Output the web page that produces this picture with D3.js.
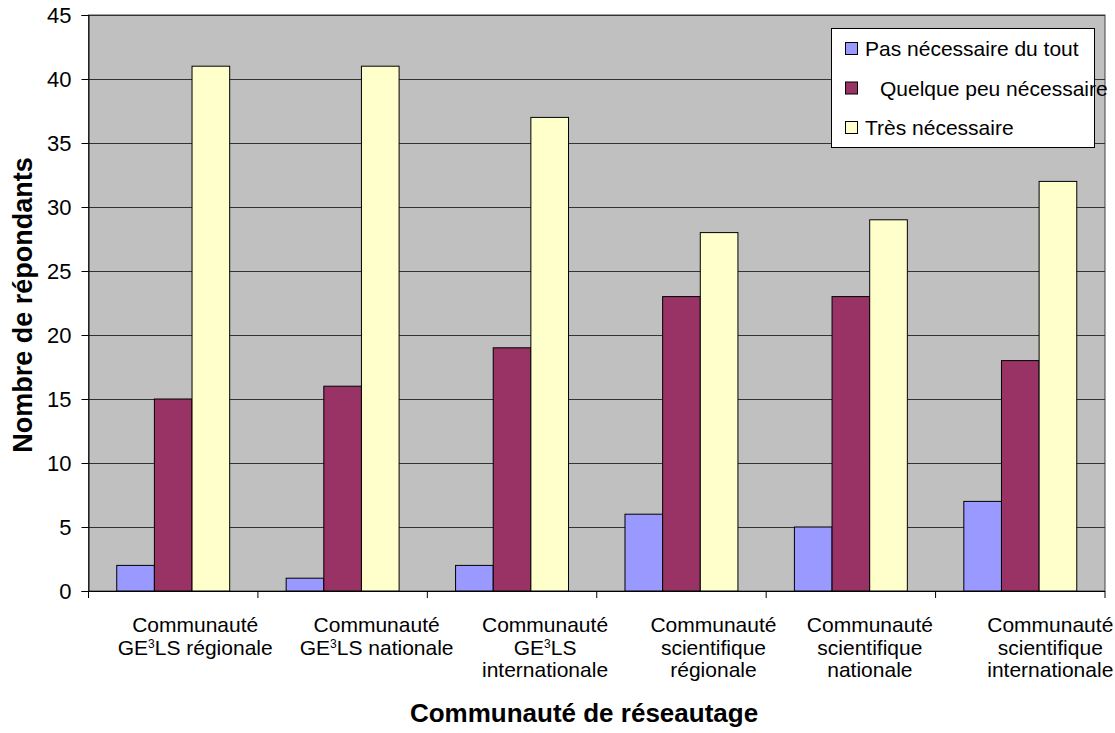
<!DOCTYPE html>
<html><head><meta charset="utf-8">
<script src="https://cdn.jsdelivr.net/npm/d3@7"></script>
<style>body{margin:0;background:#fff}svg{display:block;font-family:"Liberation Sans",Arial,sans-serif}</style>
</head><body><svg id="c" width="1115" height="733"></svg>
<script>
// ---- data ----
const categories = [
  ["Communauté", "GE³LS régionale"],
  ["Communauté", "GE³LS nationale"],
  ["Communauté", "GE³LS", "internationale"],
  ["Communauté", "scientifique", "régionale"],
  ["Communauté", "scientifique", "nationale"],
  ["Communauté", "scientifique", "internationale"]
];
const seriesNames = ["Pas nécessaire du tout", "Quelque peu nécessaire", "Très nécessaire"];
const pasNecessaire = [2, 1, 2, 6, 5, 7];
const quelquePeu = [15, 16, 19, 23, 23, 18];
const tresNecessaire = [41, 41, 37, 28, 29, 32];
const yTicks = [0, 5, 10, 15, 20, 25, 30, 35, 40, 45];
const yTitle = "Nombre de répondants";
const xTitle = "Communauté de réseautage";

// ---- drawing ----
const colors = ["#9999FF", "#993366", "#FFFFCC"];
const series = [pasNecessaire, quelquePeu, tresNecessaire];
const svg = d3.select("#c");
const L = 88.5, R = 1105, T = 15, B = 591;

const x0 = d3.scaleBand().domain(d3.range(categories.length)).range([L, R]).paddingInner(0).paddingOuter(0);
const bw = x0.bandwidth() / 4.5;
const x1 = d3.scaleBand().domain(d3.range(series.length)).range([0.75 * bw, 3.75 * bw]);
const y = d3.scaleLinear().domain([0, 45]).range([B, T]);

svg.append("rect").attr("x", L).attr("y", T).attr("width", R - L).attr("height", B - T)
  .attr("fill", "#C0C0C0").attr("stroke", "#444").attr("stroke-width", 1);

svg.append("g").selectAll("line").data(yTicks.filter(d => d > 0)).join("line")
  .attr("x1", L).attr("x2", R).attr("y1", d => Math.round(y(d)) + 0.5).attr("y2", d => Math.round(y(d)) + 0.5)
  .attr("stroke", "#333").attr("stroke-width", 1);

const g = svg.append("g");
series.forEach((vals, si) => {
  g.selectAll(null).data(vals).join("rect")
    .attr("x", (d, i) => x0(i) + x1(si))
    .attr("y", d => y(d))
    .attr("width", x1.bandwidth())
    .attr("height", d => B - y(d))
    .attr("fill", colors[si]).attr("stroke", "#000").attr("stroke-width", 1);
});

// y axis
const yAxis = d3.axisLeft(y).tickValues(yTicks).tickSize(7).tickPadding(10);
const ya = svg.append("g").attr("transform", `translate(${L},0)`).call(yAxis);
ya.select(".domain").attr("stroke", "#000");
ya.selectAll("text").attr("font-size", 22).attr("font-family", "Liberation Sans, Arial, sans-serif").attr("fill", "#000");

// x axis (ticks at category boundaries)
const boundaries = d3.range(categories.length + 1).map(i => L + i * x0.bandwidth());
svg.append("line").attr("x1", L).attr("x2", R).attr("y1", B + 0.5).attr("y2", B + 0.5).attr("stroke", "#000");
svg.append("g").selectAll("line").data(boundaries).join("line")
  .attr("x1", d => d).attr("x2", d => d).attr("y1", B).attr("y2", B + 7).attr("stroke", "#000");

const labelShift = [22, 34, 33, 32, 19, 30];
const lab = svg.append("g").attr("font-size", 21).attr("text-anchor", "middle").attr("fill", "#000");
categories.forEach((lines, i) => {
  const cx = x0(i) + x0.bandwidth() / 2 + labelShift[i];
  lines.forEach((ln, j) => {
    const t = lab.append("text").attr("x", cx).attr("y", 632 + j * 22.5);
    if (ln.includes("³")) {
      const parts = ln.split("³");
      t.append("tspan").text(parts[0]);
      t.append("tspan").text("3").attr("font-size", 12).attr("dy", -7);
      t.append("tspan").text(parts[1]).attr("dy", 7);
    } else t.text(ln);
  });
});

svg.append("text").attr("x", 584).attr("y", 722).attr("text-anchor", "middle")
  .attr("font-size", 26).attr("font-weight", "bold").text(xTitle);
svg.append("text").attr("transform", "translate(32,305) rotate(-90)").attr("text-anchor", "middle")
  .attr("font-size", 27).attr("font-weight", "bold").text(yTitle);

// legend
const lg = svg.append("g");
lg.append("rect").attr("x", 831.5).attr("y", 28.5).attr("width", 263).attr("height", 119)
  .attr("fill", "#fff").attr("stroke", "#000");
const rowsY = [56, 95.5, 135];
const textX = [865, 880, 865];
seriesNames.forEach((n, i) => {
  lg.append("rect").attr("x", 845.5).attr("y", rowsY[i] - 13.5).attr("width", 12).attr("height", 12)
    .attr("fill", colors[i]).attr("stroke", "#000");
  lg.append("text").attr("x", textX[i]).attr("y", rowsY[i]).attr("font-size", 21).text(n);
});
</script></body></html>
